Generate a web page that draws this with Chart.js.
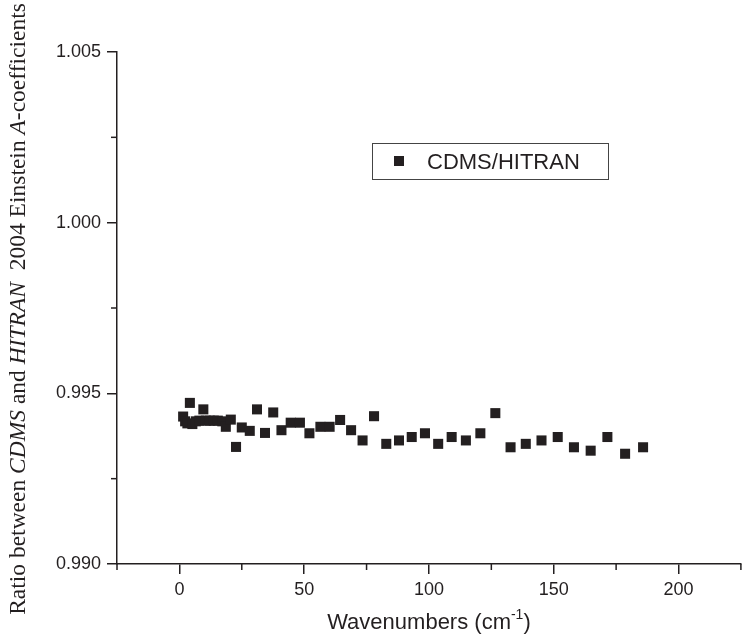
<!DOCTYPE html>
<html><head><meta charset="utf-8">
<script src="https://cdn.jsdelivr.net/npm/chart.js@4"></script>
<style>html,body{margin:0;padding:0;background:#fff}#wrap{width:748px;height:638px;position:relative}</style>
</head><body><div id="wrap"><canvas id="c" width="748" height="638"></canvas></div>
<script>
const seriesLabel = 'CDMS/HITRAN';
const wavenumbers = [1.5, 2.3, 3.2, 4.2, 5.2, 6.6, 8.0, 9.6, 10.6, 12.2, 13.8, 15.4, 17.2, 18.6, 20.6, 22.7, 25.0, 28.2, 31.1, 34.3, 37.6, 40.9, 44.6, 48.3, 52.1, 56.5, 60.2, 64.4, 68.8, 73.4, 78.0, 82.9, 88.0, 93.1, 98.4, 103.7, 109.1, 114.8, 120.6, 126.6, 132.7, 138.8, 145.1, 151.6, 158.1, 164.8, 171.5, 178.6, 185.8];
const ratios = [0.99432, 0.99418, 0.99412, 0.99472, 0.99410, 0.99418, 0.99420, 0.99453, 0.99420, 0.99420, 0.99420, 0.99420, 0.99418, 0.99402, 0.99423, 0.99343, 0.99400, 0.99390, 0.99453, 0.99384, 0.99444, 0.99392, 0.99414, 0.99414, 0.99383, 0.99402, 0.99402, 0.99422, 0.99392, 0.99362, 0.99433, 0.99352, 0.99362, 0.99372, 0.99383, 0.99352, 0.99372, 0.99362, 0.99383, 0.99442, 0.99342, 0.99352, 0.99362, 0.99372, 0.99342, 0.99332, 0.99372, 0.99323, 0.99342];
const xTicks = [0, 50, 100, 150, 200];
const xMinorTicks = [-25, 25, 75, 125, 175, 225];
const yTicks = [0.990, 0.995, 1.000, 1.005];
const yMinorTicks = [0.9925, 0.9975, 1.0025];
const xTitleMain = 'Wavenumbers (cm';
const xTitleSup = '-1';
const xTitleEnd = ')';
const yTitleParts = [['Ratio between ', false], ['CDMS', true], [' and ', false], ['HITRAN', true], ['  2004 Einstein ', false], ['A', true], ['-coefficients', false]];

const INK = '#231f20';
const SANS = "'Liberation Sans', Arial, Helvetica, sans-serif";
const SERIF = "'Liberation Serif', 'Times New Roman', serif";

const points = wavenumbers.map((x, i) => ({x: x, y: ratios[i]}));

const decor = {
  id: 'decor',
  afterDraw(chart) {
    const ctx = chart.ctx;
    const xs = chart.scales.x, ys = chart.scales.y;
    const area = chart.chartArea;
    ctx.save();
    ctx.strokeStyle = INK;
    ctx.lineWidth = 1.5;
    xMinorTicks.forEach(v => {
      const px = xs.getPixelForValue(v);
      ctx.beginPath(); ctx.moveTo(px, area.bottom); ctx.lineTo(px, area.bottom + 6); ctx.stroke();
    });
    yMinorTicks.forEach(v => {
      const py = ys.getPixelForValue(v);
      ctx.beginPath(); ctx.moveTo(area.left, py); ctx.lineTo(area.left - 6, py); ctx.stroke();
    });
    ctx.fillStyle = INK;
    ctx.textBaseline = 'alphabetic';
    const f1 = "22px " + SANS, f2 = "14px " + SANS;
    ctx.font = f1; const w1 = ctx.measureText(xTitleMain).width; const w3 = ctx.measureText(xTitleEnd).width;
    ctx.font = f2; const w2 = ctx.measureText(xTitleSup).width;
    const cx = (area.left + area.right) / 2;
    let x0 = cx - (w1 + w2 + w3) / 2;
    const by = 629;
    ctx.font = f1; ctx.textAlign = 'left'; ctx.fillText(xTitleMain, x0, by);
    ctx.font = f2; ctx.fillText(xTitleSup, x0 + w1, by - 10);
    ctx.font = f1; ctx.fillText(xTitleEnd, x0 + w1 + w2, by);
    ctx.save();
    ctx.translate(25, 309);
    ctx.rotate(-Math.PI / 2);
    let total = 0;
    const yf = '23.5px ' + SERIF;
    yTitleParts.forEach(p => { ctx.font = (p[1] ? 'italic ' : '') + yf; total += ctx.measureText(p[0]).width; });
    let tx = -total / 2;
    yTitleParts.forEach(p => {
      ctx.font = (p[1] ? 'italic ' : '') + yf;
      ctx.fillText(p[0], tx, 0);
      tx += ctx.measureText(p[0]).width;
    });
    ctx.restore();
    ctx.lineWidth = 1;
    ctx.strokeStyle = '#444';
    ctx.strokeRect(372.5, 143.5, 236, 36);
    ctx.fillStyle = INK;
    ctx.fillRect(394, 156, 10, 10);
    ctx.font = '22px ' + SANS;
    ctx.textAlign = 'left';
    ctx.fillText(seriesLabel, 427, 168.5);
    ctx.restore();
  }
};

new Chart(document.getElementById('c'), {
  type: 'scatter',
  data: { datasets: [{
    label: seriesLabel,
    data: points,
    pointStyle: 'rect',
    pointRadius: 7.1,
    pointHoverRadius: 7.1,
    backgroundColor: INK,
    borderWidth: 0,
    showLine: false
  }]},
  options: {
    responsive: false,
    animation: false,
    devicePixelRatio: 1,
    layout: { padding: { top: 52, right: 0, left: 0, bottom: 0 } },
    plugins: { legend: { display: false }, tooltip: { enabled: false } },
    scales: {
      x: {
        type: 'linear', min: -25, max: 225,
        afterBuildTicks: s => { s.ticks = xTicks.map(v => ({value: v})); },
        afterFit: s => { s.height = 74; },
        grid: { display: true, drawOnChartArea: false, drawTicks: true, tickLength: 10, color: INK, lineWidth: 1.5 },
        border: { display: true, color: INK, width: 1.5 },
        ticks: { color: INK, padding: 5, font: { family: SANS, size: 18 }, maxRotation: 0, callback: v => String(v) }
      },
      y: {
        type: 'linear', min: 0.990, max: 1.005,
        afterBuildTicks: s => { s.ticks = yTicks.map(v => ({value: v})); },
        afterFit: s => { s.width = 117; },
        grid: { display: true, drawOnChartArea: false, drawTicks: true, tickLength: 10, color: INK, lineWidth: 1.5 },
        border: { display: true, color: INK, width: 1.5 },
        ticks: { color: INK, padding: 6, font: { family: SANS, size: 18 }, callback: v => Number(v).toFixed(3) }
      }
    }
  },
  plugins: [decor]
});
</script></body></html>
